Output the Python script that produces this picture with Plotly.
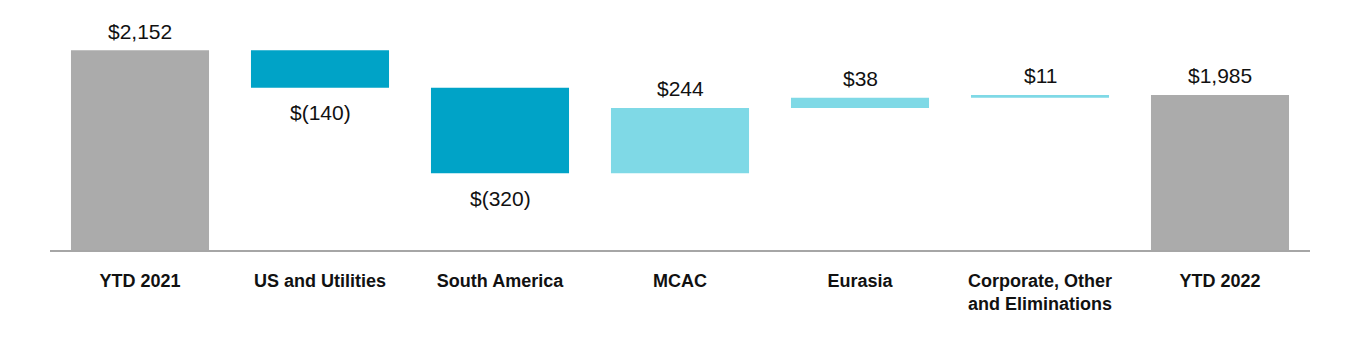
import plotly.graph_objects as go

categories = ["YTD 2021", "US and Utilities", "South America", "MCAC", "Eurasia",
              "Corporate, Other<br>and Eliminations", "YTD 2022"]
values = [2152, -140, -320, 244, 38, 11, 1985]
measures = ["absolute", "relative", "relative", "relative", "relative", "relative", "total"]
labels = ["$2,152", "$(140)", "$(320)", "$244", "$38", "$11", "$1,985"]

GRAY = "#ABABAB"
DARK = "#00A3C7"
LIGHT = "#7FD9E6"
FONT = "Liberation Sans, Arial, sans-serif"

fig = go.Figure(go.Waterfall(
    x=categories, y=values, measure=measures,
    increasing=dict(marker=dict(color=LIGHT)),
    decreasing=dict(marker=dict(color=DARK)),
    totals=dict(marker=dict(color=GRAY)),
    connector=dict(visible=False),
    width=0.767,
    hoverinfo="skip",
))

# value labels placed from the cumulative waterfall positions
running = 0
for cat, v, m, lab in zip(categories, values, measures, labels):
    if m == "absolute":
        running = v
        y, shift = v, 19
    elif m == "total":
        y, shift = running, 19
    else:
        running += v
        if v < 0:
            y, shift = running, -25
        else:
            y, shift = running, 19
    fig.add_annotation(x=cat, y=y, text=lab, showarrow=False, yshift=shift,
                       yanchor="middle", font=dict(family=FONT, size=21, color="#111111"))

fig.update_layout(
    width=1360, height=350,
    margin=dict(l=50, r=50, t=20, b=100),
    paper_bgcolor="white", plot_bgcolor="white",
    showlegend=False,
    font=dict(family=FONT, color="#111111"),
    xaxis=dict(showline=True, linecolor="#A6A6A6", linewidth=2, showgrid=False,
               ticks="", ticklabelstandoff=13,
               tickfont=dict(family=FONT, size=18, color="#111111", weight="bold")),
    yaxis=dict(range=[1405, 2265], visible=False, showgrid=False, zeroline=False),
)

fig.write_html("out.html")
